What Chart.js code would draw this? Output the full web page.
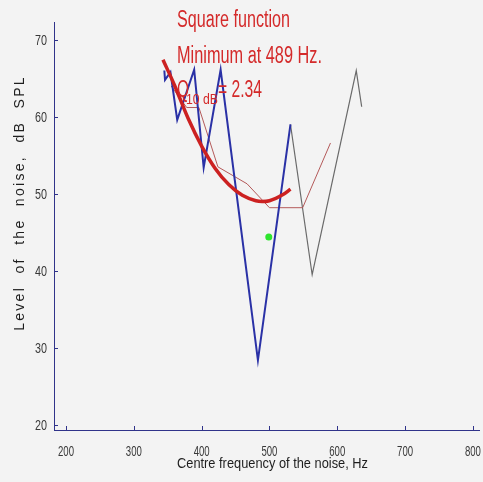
<!DOCTYPE html>
<html>
<head>
<meta charset="utf-8">
<script src="https://cdn.jsdelivr.net/npm/chart.js@4/dist/chart.umd.min.js"></script>
<style>
  html, body { margin: 0; padding: 0; background: #f3f3f3; }
  #wrap { width: 483px; height: 482px; }
</style>
</head>
<body>
<div id="wrap"><canvas id="noise-chart" width="483" height="482"></canvas></div>
<script>
// tick values
const xTicks = [200, 300, 400, 500, 600, 700, 800];
const yTicks = [20, 30, 40, 50, 60, 70];

// measured levels (blue), continuation (grey), smoothed (brown)
const blueFreq  = [345, 346, 354, 364, 389, 403, 428, 483, 531];
const blueLevel = [66.0, 64.8, 65.8, 59.6, 66.1, 53.4, 66.1, 28.4, 59.0];

const greyFreq  = [531, 563, 628, 636];
const greyLevel = [59.0, 39.5, 66.0, 61.3];

const brownFreq  = [355, 378, 396, 424, 467, 500, 549, 590];
const brownLevel = [64.0, 61.2, 61.2, 53.5, 51.3, 48.2, 48.2, 56.6];

// square function fit
const fitFreq  = [343, 360, 380, 400, 420, 440, 460, 480, 489, 500, 520, 531];
const fitLevel = [67.4, 64.1, 59.8, 56.2, 53.3, 51.2, 49.8, 49.1, 49.0, 49.1, 49.9, 50.6];

// green marker
const markFreq  = [499];
const markLevel = [44.4];

const toPoints = (xs, ys) => xs.map((x, i) => ({x: x, y: ys[i]}));

const AXIS_COLOR = '#30338a';
const SANS = "'Liberation Sans', Arial, sans-serif";

// draw text squeezed to a given width
function fitText(ctx, text, x, y, w, font, color, align) {
    ctx.save();
    ctx.font = font;
    ctx.fillStyle = color;
    ctx.textBaseline = 'alphabetic';
    ctx.textAlign = 'left';
    const m = ctx.measureText(text).width;
    let x0 = x;
    if (align === 'center') x0 = x - w / 2;
    if (align === 'right') x0 = x - w;
    ctx.translate(x0, y);
    ctx.scale(w / m, 1);
    ctx.fillText(text, 0, 0);
    ctx.restore();
}

const decor = {
    id: 'decor',
    beforeDraw(chart) {
        const ctx = chart.ctx;
        ctx.save();
        ctx.fillStyle = '#f3f3f3';
        ctx.fillRect(0, 0, chart.width, chart.height);
        ctx.restore();
    },
    afterDraw(chart) {
        const ctx = chart.ctx;
        const xs = chart.scales.x, ys = chart.scales.y;
        const area = chart.chartArea;

        // small inward tick marks
        ctx.save();
        ctx.strokeStyle = AXIS_COLOR;
        ctx.lineWidth = 1;
        ctx.beginPath();
        xTicks.forEach(v => {
            const px = Math.round(xs.getPixelForValue(v)) + 0.5;
            ctx.moveTo(px, area.bottom);
            ctx.lineTo(px, area.bottom - 4);
        });
        yTicks.forEach(v => {
            const py = Math.round(ys.getPixelForValue(v)) + 0.5;
            ctx.moveTo(area.left, py);
            ctx.lineTo(area.left + 4, py);
        });
        ctx.stroke();
        ctx.restore();

        // narrow tick labels
        xTicks.forEach(v => {
            fitText(ctx, String(v), xs.getPixelForValue(v), 456, 16, '15px ' + SANS, '#383838', 'center');
        });
        yTicks.forEach(v => {
            fitText(ctx, String(v), 47, ys.getPixelForValue(v) + 5.5, 12, '15px ' + SANS, '#383838', 'right');
        });

        // y axis title, letter spaced
        ctx.save();
        ctx.translate(20, 203);
        ctx.rotate(-Math.PI / 2);
        ctx.font = '14px ' + SANS;
        ctx.letterSpacing = '2.3px';
        ctx.fillStyle = '#1e1e1e';
        ctx.textAlign = 'center';
        ctx.textBaseline = 'middle';
        ctx.fillText('Level  of  the  noise,  dB  SPL', 0, 0);
        ctx.restore();

        // x axis title
        fitText(ctx, 'Centre frequency of the noise, Hz', 177, 468, 191, '15px ' + SANS, '#1e1e1e');

        // annotation in red
        const red = '#d42a2a';
        const big = '23px ' + SANS;
        fitText(ctx, 'Square function', 177, 27, 113, big, red);
        fitText(ctx, 'Minimum at 489 Hz.', 177, 63, 145, big, red);
        fitText(ctx, 'Q', 177, 97, 12, big, red);
        fitText(ctx, '10 dB', 186, 104, 32, '14px ' + SANS, red);
        fitText(ctx, '= 2.34', 218, 97, 44, big, red);
    }
};

new Chart(document.getElementById('noise-chart'), {
    type: 'scatter',
    data: {
        datasets: [
            {
                label: 'marker',
                data: toPoints(markFreq, markLevel),
                showLine: false,
                pointRadius: 3.5,
                pointBackgroundColor: '#2ee52e',
                pointBorderWidth: 0
            },
            {
                label: 'square function',
                data: toPoints(fitFreq, fitLevel),
                showLine: true,
                borderColor: '#cc2121',
                borderWidth: 3.5,
                cubicInterpolationMode: 'monotone',
                pointRadius: 0
            },
            {
                label: 'measured',
                data: toPoints(blueFreq, blueLevel),
                showLine: true,
                borderColor: '#2a31a6',
                borderWidth: 2,
                pointRadius: 0
            },
            {
                label: 'smoothed',
                data: toPoints(brownFreq, brownLevel),
                showLine: true,
                borderColor: '#b45a5a',
                borderWidth: 1,
                pointRadius: 0
            },
            {
                label: 'continuation',
                data: toPoints(greyFreq, greyLevel),
                showLine: true,
                borderColor: '#6a6a6a',
                borderWidth: 1.2,
                pointRadius: 0
            }
        ]
    },
    options: {
        responsive: false,
        animation: false,
        layout: {padding: {top: 22, right: 0, left: 0, bottom: 0}},
        plugins: {
            legend: {display: false},
            tooltip: {enabled: false},
            title: {display: false}
        },
        scales: {
            x: {
                type: 'linear',
                min: 182.3,
                max: 809,
                afterBuildTicks: s => { s.ticks = xTicks.map(v => ({value: v})); },
                afterFit: s => { s.height = 52; s.paddingLeft = 0; s.paddingRight = 0; },
                grid: {display: false, drawTicks: false},
                border: {display: true, color: AXIS_COLOR, width: 1},
                ticks: {display: false}
            },
            y: {
                type: 'linear',
                min: 19.35,
                max: 72.3,
                afterBuildTicks: s => { s.ticks = yTicks.map(v => ({value: v})); },
                afterFit: s => { s.width = 54; s.paddingTop = 0; s.paddingBottom = 0; },
                grid: {display: false, drawTicks: false},
                border: {display: true, color: AXIS_COLOR, width: 1},
                ticks: {display: false}
            }
        }
    },
    plugins: [decor]
});
</script>
</body>
</html>
